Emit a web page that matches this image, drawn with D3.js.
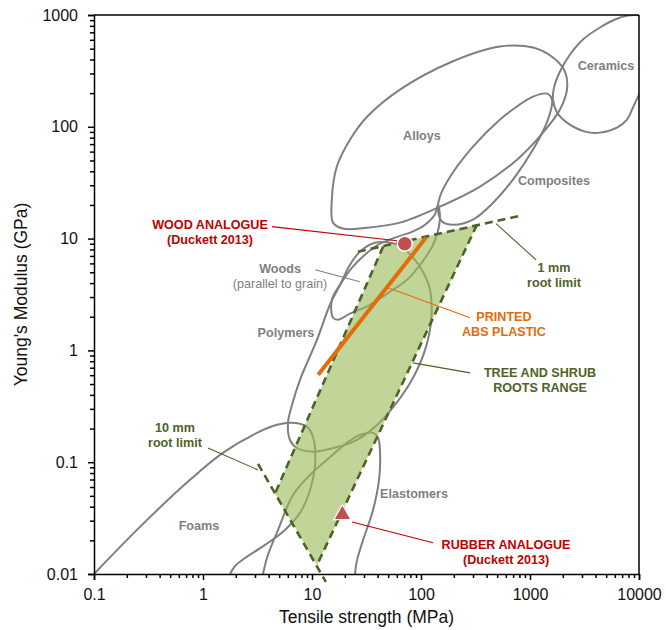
<!DOCTYPE html>
<html><head><meta charset="utf-8">
<script src="https://cdn.jsdelivr.net/npm/d3@7"></script>
<style>
html,body{margin:0;padding:0;background:#fff;}
svg{display:block;font-family:"Liberation Sans",Arial,sans-serif;}
</style></head>
<body><svg id="chart" width="666" height="630"></svg>
<script>
// ---------- data (Tensile strength MPa, Young's modulus GPa) ----------
const xTicks = [0.1, 1, 10, 100, 1000, 10000];
const xTickLabels = ["0.1", "1", "10", "100", "1000", "10000"];
const yTicks = [0.01, 0.1, 1, 10, 100, 1000];
const yTickLabels = ["0.01", "0.1", "1", "10", "100", "1000"];

const alloys = [[15.6,13.9],[15.2,22.3],[16.9,44.1],[22.3,76.7],[32,123],[64.1,215],[185,376],[531,522],[1066,512],[1626,417],[2094,312],[2183,215],[1884,143],[1315,88.7],[760,50.8],[348,29.2],[149,19.3],[64.1,13.9],[32,12.5],[19.2,12.3]];
const composites = [[1432,198],[1592,175],[1462,116],[1066,62.5],[698,33.7],[458,20.9],[300,14.8],[197,13.3],[156,14.2],[143,18.2],[149,23.7],[185,35.8],[300,66.5],[531,116],[760,152],[1066,186]];
const ceramics = [[11350,239],[10000,194],[8810,149],[7762,116],[6281,98.4],[4385,88.7],[3199,90.6],[2183,109],[1770,134],[1626,175],[1660,224],[1884,312],[2328,443],[3062,604],[4385,773],[6026,912],[7925,990],[11350,990]];
const woods = [[15.6,1.96],[15.2,2.84],[18.1,3.86],[23.3,5.5],[30.6,7.18],[40.4,8.81],[57.7,10.2],[82.6,11.5],[109,13.3],[134,16.4],[143,20.1],[149,14.8],[129,8.81],[98,5.83],[74.5,4.29],[52,3.35],[34,2.56],[22.3,2.13],[17.3,1.88]];
const polymers = [[37.8,9.18],[27.5,7.64],[22.3,5.83],[18.1,3.86],[14.6,2.56],[11.1,1.24],[7.76,0.546],[6.56,0.326],[6.02,0.225],[6.28,0.158],[7.28,0.134],[10.2,0.124],[15.6,0.134],[23.8,0.152],[37.8,0.207],[57.7,0.326],[82.6,0.546],[109,1.01],[124,1.88],[121,3.49],[104,5.06],[84.5,6.75],[61.5,8.81]];
const foams = [[0.1,0.01],[0.264,0.0264],[0.76,0.0695],[1.52,0.121],[3.13,0.183],[4.77,0.216],[6.69,0.225],[8.99,0.207],[10.2,0.169],[10.7,0.0986],[9.59,0.0565],[7.76,0.0352],[5.65,0.0248],[3.71,0.0182],[2.43,0.0139],[1.97,0.0118],[1.77,0.01]];
const elastomers = [[3.55,0.01],[3.94,0.0148],[4.88,0.0248],[6.69,0.0509],[9.59,0.0769],[13.7,0.105],[20.9,0.149],[27.5,0.175],[36.3,0.183],[40.4,0.165],[42.1,0.121],[41.2,0.0695],[36.3,0.0374],[29.4,0.0201],[25.9,0.0133],[24.8,0.01]];

const rootsRange = [[45,8.5],[326,13.3],[11.1,0.012],[4.58,0.0525]];
const rootLimit1mm = [[26.4,7.64],[809,16.0]];
const rootLimit10mm = [[3.2,0.0966],[13.4,0.0085]];
const absPlastic = [[11.4,0.605],[111,10.2]];
const woodAnalogue = [71, 9.0];
const rubberAnalogue = [19, 0.034];

const leaderWood = [[4.3,12.8],[60.3,9.58]];
const leaderWoods = [[10.7,5.27],[27.5,4.11]];
const leaderAbs = [[49.8,3.63],[282,1.96]];
const leaderRoots = [[84.5,0.774],[282,0.629]];
const leader1mm = [[488,13.6],[1135,6.47]];
const leader10mm = [[1.11,0.134],[3.2,0.0853]];
const leaderRubber = [[23.3,0.0292],[129,0.019]];

const materialLabels = [
  {text:["Alloys"], at:[102,76.7]},
  {text:["Composites"], at:[1660,30.4]},
  {text:["Ceramics"], at:[4980,325]},
  {text:["Polymers"], at:[5.77,1.32]},
  {text:["Foams"], at:[0.918,0.0248]},
  {text:["Elastomers"], at:[86.3,0.0479]},
  {text:["Woods"], at:[5.09,4.95]}
];
const woodsNote = {text:"(parallel to grain)", at:[5.09,4.95]};
const noteLabels = [
  {text:["WOOD ANALOGUE","(Duckett 2013)"], at:[1.16,12.3], kind:"red"},
  {text:["RUBBER ANALOGUE","(Duckett 2013)"], at:[603,0.0168], kind:"red"},
  {text:["PRINTED","ABS PLASTIC"], at:[577,1.84], kind:"orange"},
  {text:["TREE AND SHRUB","ROOTS RANGE"], at:[1236,0.581], kind:"olive"},
  {text:["1 mm","root limit"], at:[1660,5.06], kind:"olive"},
  {text:["10 mm","root limit"], at:[0.553,0.187], kind:"olive"}
];

// ---------- drawing ----------
(function draw() {
const svg = d3.select("#chart");
const pL = 94, pR = 639, pT = 15, pB = 574;
const x = d3.scaleLog().domain([0.1, 10000]).range([pL, pR]);
const y = d3.scaleLog().domain([0.01, 1000]).range([pB, pT]);

const GRAY = "#7f7f7f", RED = "#c00000", ORANGE = "#e46c0a", OLIVE = "#4f6228";

svg.append("defs").append("clipPath").attr("id","plotclip")
  .append("rect").attr("x",pL).attr("y",pT).attr("width",pR-pL).attr("height",pB-pT);

const g = svg.append("g").attr("clip-path","url(#plotclip)");
const closedLine = d3.line().x(d=>x(d[0])).y(d=>y(d[1])).curve(d3.curveCatmullRomClosed.alpha(0.5));
const openLine = d3.line().x(d=>x(d[0])).y(d=>y(d[1])).curve(d3.curveCatmullRom.alpha(0.5));
const straight = d3.line().x(d=>x(d[0])).y(d=>y(d[1]));

[alloys, composites, woods, polymers].forEach(s => {
  g.append("path").attr("d", closedLine(s)).attr("fill","none").attr("stroke",GRAY).attr("stroke-width",2);
});
[ceramics, foams, elastomers].forEach(s => {
  g.append("path").attr("d", openLine(s)).attr("fill","none").attr("stroke",GRAY).attr("stroke-width",2);
});

// roots range polygon
g.append("path").attr("d", straight(rootsRange) + "Z")
  .attr("fill","#9bbb59").attr("fill-opacity",0.62).attr("stroke","none");

function dashed(pts, clip) {
  (clip ? g : svg).append("path").attr("d", straight(pts)).attr("fill","none")
    .attr("stroke", OLIVE).attr("stroke-width", 2.6).attr("stroke-dasharray", "8,5");
}
dashed([rootsRange[0], rootsRange[3]], true);
dashed([rootsRange[1], rootsRange[2]], true);
dashed(rootLimit1mm, true);
dashed(rootLimit10mm, false);

// leader lines
function leader(pts, color) {
  svg.append("path").attr("d", straight(pts)).attr("fill","none").attr("stroke",color).attr("stroke-width",1.1);
}
leader(leaderWood, RED);
leader(leaderRubber, RED);
leader(leaderAbs, ORANGE);
leader(leaderRoots, OLIVE);
leader(leader1mm, OLIVE);
leader(leader10mm, OLIVE);
leader(leaderWoods, GRAY);

// ABS line
svg.append("path").attr("d", straight(absPlastic)).attr("stroke",ORANGE).attr("stroke-width",4).attr("fill","none");

// markers
svg.append("circle").attr("cx", x(woodAnalogue[0])).attr("cy", y(woodAnalogue[1])).attr("r",7.5)
  .attr("fill","#c0504d").attr("stroke","#fff").attr("stroke-width",1.5);
svg.append("path").attr("d", d3.symbol(d3.symbolTriangle, 130)())
  .attr("transform", `translate(${x(rubberAnalogue[0])},${y(rubberAnalogue[1])})`)
  .attr("fill","#c0504d").attr("stroke","#fff").attr("stroke-width",1.2);

// axes frame
svg.append("line").attr("x1",pL).attr("x2",pR).attr("y1",pT).attr("y2",pT).attr("stroke","#000").attr("stroke-width",1.5);
svg.append("line").attr("x1",pR).attr("x2",pR).attr("y1",pT).attr("y2",pB).attr("stroke","#000").attr("stroke-width",1.5);

const minor = ticks => ticks.slice(0,-1).flatMap(t => d3.range(2,10).map(k => t*k));
const xAxis = d3.axisBottom(x).tickValues(xTicks).tickFormat((d,i)=>xTickLabels[i]).tickSize(6).tickPadding(9);
const yAxis = d3.axisLeft(y).tickValues(yTicks).tickFormat((d,i)=>yTickLabels[i]).tickSize(6).tickPadding(10);

const gx = svg.append("g").attr("transform",`translate(0,${pB})`).call(xAxis);
const gy = svg.append("g").attr("transform",`translate(${pL},0)`).call(yAxis);
svg.append("g").attr("transform",`translate(0,${pB})`)
  .call(d3.axisBottom(x).tickValues(minor(xTicks)).tickFormat("").tickSize(4))
  .select(".domain").remove();
svg.append("g").attr("transform",`translate(${pL},0)`)
  .call(d3.axisLeft(y).tickValues(minor(yTicks)).tickFormat("").tickSize(4))
  .select(".domain").remove();
svg.selectAll(".domain, .tick line").attr("stroke","#000").attr("stroke-width",1.5);
[gx, gy].forEach(a => a.selectAll("text").attr("font-size",16).attr("fill","#111").attr("font-family","Liberation Sans, Arial, sans-serif"));

svg.append("text").attr("x",(pL+pR)/2).attr("y",623).attr("text-anchor","middle")
  .attr("font-size",17.5).attr("fill","#111").text("Tensile strength (MPa)");
svg.append("text").attr("transform",`translate(27,${(pT+pB)/2}) rotate(-90)`).attr("text-anchor","middle")
  .attr("font-size",17.5).attr("fill","#111").text("Young's Modulus (GPa)");

// labels
materialLabels.forEach(l => {
  svg.append("text").attr("x",x(l.at[0])).attr("y",y(l.at[1])).attr("text-anchor","middle")
    .attr("font-size",12.6).attr("font-weight","bold").attr("fill",GRAY).text(l.text[0]);
});
svg.append("text").attr("x",x(woodsNote.at[0])).attr("y",y(woodsNote.at[1])+15.5).attr("text-anchor","middle")
  .attr("font-size",12.6).attr("fill",GRAY).text(woodsNote.text);
const colors = {red: RED, orange: ORANGE, olive: OLIVE};
noteLabels.forEach(l => {
  const t = svg.append("text").attr("text-anchor","middle").attr("font-size",12.6)
    .attr("font-weight","bold").attr("fill",colors[l.kind]);
  l.text.forEach((s,i) => t.append("tspan").attr("x",x(l.at[0])).attr("y",y(l.at[1])+i*15.5).text(s));
});
})();
</script></body></html>
